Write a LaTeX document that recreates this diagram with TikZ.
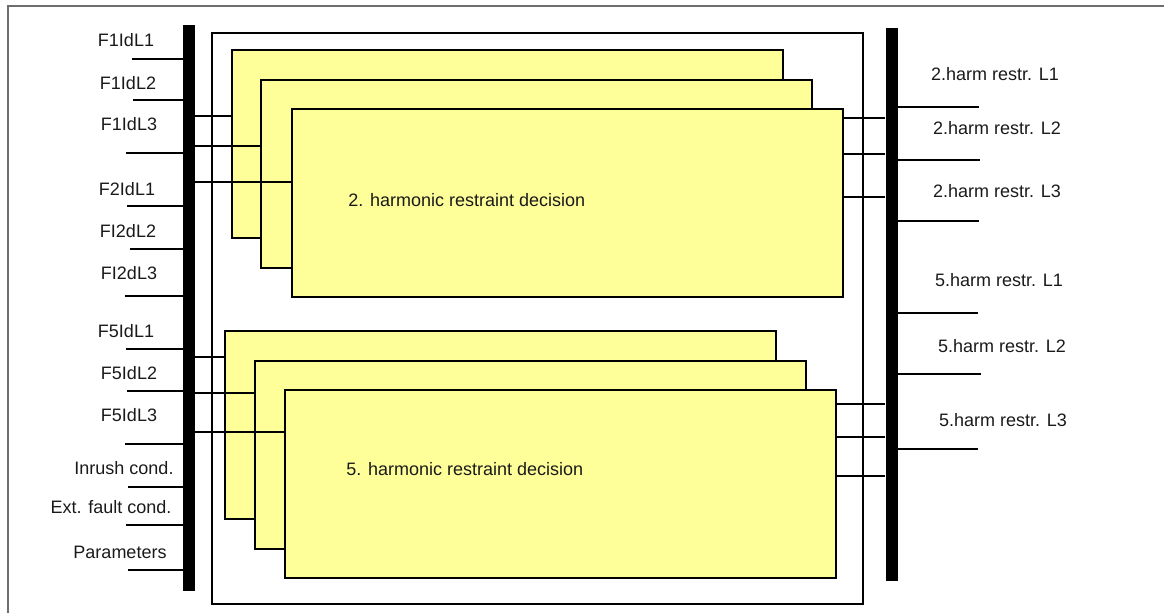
\documentclass[tikz,border=0pt]{standalone}
\usepackage{fontspec}
\setmainfont{Liberation Sans}
\usepackage{xcolor}
\usepackage{tikz}
\usetikzlibrary{positioning,calc}
\definecolor{HrYellow}{HTML}{FFFF99}
\definecolor{HrGrey}{HTML}{6E6E6E}
\definecolor{HrInk}{HTML}{1A1A1A}
\colorlet{HrBus}{black}

\tikzset{
  bus/.style={rectangle, fill=HrBus, inner sep=0pt, minimum width=6pt},
  stackbox/.style={rectangle, draw=black, fill=HrYellow, line width=1pt,
    inner sep=0pt, anchor=north west, minimum width=275.5pt, minimum height=94pt},
  wire/.style={draw=black, line width=0.7pt},
  sig/.style={text=HrInk, inner sep=0pt, font=\fontsize{9pt}{11pt}\selectfont},
}

\begin{document}
\begin{tikzpicture}[x=0.5pt, y=-0.5pt]
  \useasboundingbox (0,0) rectangle (1165,613);
  % open outer border
  \draw[HrGrey, line width=0.6pt] (8,613) -- (8,6) -- (1164,6);

  % busbars and function frame
  \node[bus, minimum height=283pt] (lbus) at (189,308) {};
  \node[bus, minimum height=276.5pt] (rbus) at (891.5,304.5) {};
  \node[draw=black, line width=0.75pt, minimum width=325.5pt, minimum height=285.5pt,
        inner sep=0pt] (frame) at (537.5,318.5) {};

  % 2nd harmonic stack
  \node[stackbox] (a1) at (231,49) {};
  \node[stackbox] (a2) at ([shift={(29,30)}]a1.north west) {};
  \node[stackbox] (a3) at ([shift={(31,29)}]a2.north west) {};
  \node[sig, anchor=west] (ta) at (348,200) {2. harmonic restraint decision};

  % 5th harmonic stack
  \node[stackbox] (b1) at (224,330) {};
  \node[stackbox] (b2) at ([shift={(30,30)}]b1.north west) {};
  \node[stackbox] (b3) at ([shift={(30,29)}]b2.north west) {};
  \node[sig, anchor=west] (tb) at (346,469) {5. harmonic restraint decision};

  % inputs
  \foreach \n/\xs/\y/\lx/\ly/\txt in {
      1/132/59/126/40/F1IdL1, 2/133/100/128/83/F1IdL2, 3/126/153/129/124/F1IdL3,
      4/127/206/127/189/F2IdL1, 5/130/249/128/231/FI2dL2, 6/125/296/129/273/FI2dL3,
      7/126/349/126/331/F5IdL1, 8/127/391/129/373/F5IdL2, 9/125/444/129/415/F5IdL3,
      10/128/487/124/468/Inrush cond., 11/126/525/111/507/Ext. fault cond.,
      12/128/570/120/552/Parameters} {
    \node[sig] (in\n) at (\lx,\ly) {\txt};
    \coordinate (inp\n) at (\xs,\y);
    \draw[wire] (inp\n) -- (inp\n -| lbus.west);
  }

  % outputs
  \foreach \n/\xe/\y/\lx/\ly/\txt in {
      1/979/107/995/74/2.harm restr. L1, 2/980/160/997/128/2.harm restr. L2,
      3/979/221/997/191/2.harm restr. L3, 4/978/313/999/280/5.harm restr. L1,
      5/981/374/1002/346/5.harm restr. L2, 6/978/449/1003/420/5.harm restr. L3} {
    \node[sig] (out\n) at (\lx,\ly) {\txt};
    \coordinate (outp\n) at (\xe,\y);
    \draw[wire] (rbus.east |- outp\n) -- (outp\n);
  }

  % bus to stacks
  \foreach \y/\b in {116/a1, 146/a2, 182/a3, 357/b1, 393/b2, 432/b3}
    \draw[wire] (lbus.east |- 0,\y) -- (\b.west |- 0,\y);
  \foreach \y/\b in {118/a3, 154/a3, 197/a3, 404/b3, 437/b3, 476/b3}
    \draw[wire] (\b.east |- 0,\y) -- (rbus.west |- 0,\y);
\end{tikzpicture}
\end{document}
